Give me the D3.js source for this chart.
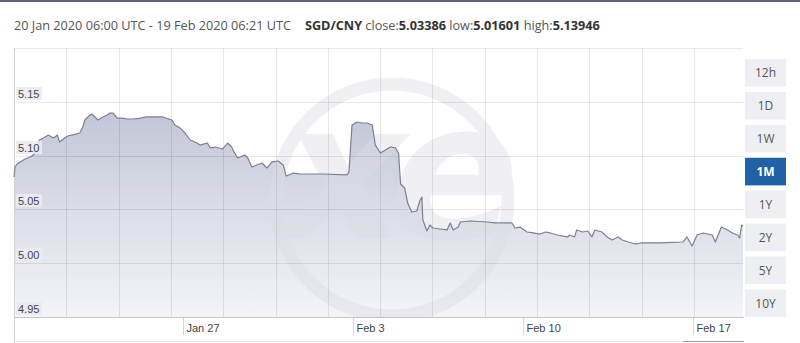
<!DOCTYPE html>
<html>
<head>
<meta charset="utf-8">
<script src="https://cdn.jsdelivr.net/npm/d3@7"></script>
<style>
  body { margin: 0; background: #fff; }
  svg { display: block; }
</style>
</head>
<body>
<svg id="chart" width="800" height="343"></svg>
<script>
// SGD/CNY, 1M view; times are hours after the first quote
var startTime = "2020-01-20T06:00:00Z";
var endTime = "2020-02-19T06:21:00Z";

var hoursFromStart = [0, 1, 3, 6, 11, 16, 19, 23, 25, 29, 34, 39, 43, 45, 50, 53, 57, 65, 68, 70,
  74, 77, 80, 83, 88, 92, 95, 98, 102, 107, 112, 118, 125, 130, 137, 147, 156, 159, 164, 169,
  174, 179, 184, 191, 194, 199, 206, 211, 215, 218, 221, 228, 231, 235, 240, 245, 250, 255, 261, 266,
  269, 276, 283, 305, 329, 331, 334, 339, 344, 349, 354, 357, 362, 367, 372, 377, 380, 382, 386, 389,
  393, 398, 401, 403, 404, 408, 411, 414, 421, 428, 431, 434, 439, 441, 451, 468, 475, 492, 495, 500,
  507, 513, 520, 525, 530, 537, 547, 549, 554, 556, 562, 567, 571, 574, 581, 586, 591, 597, 601, 607,
  614, 619, 638, 661, 665, 670, 675, 681, 690, 693, 699, 705, 710, 715, 717, 719, 720.35];

var rates = [5.0801, 5.0894, 5.0922, 5.0941, 5.0968, 5.0987, 5.1006, 5.1052, 5.1145, 5.1164,
  5.1191, 5.1164, 5.1191, 5.1126, 5.1164, 5.1182, 5.1191, 5.1210, 5.1266, 5.1331,
  5.1368, 5.1387, 5.1359, 5.1331, 5.1359, 5.1378, 5.1396, 5.1394, 5.1349, 5.1349,
  5.1340, 5.1340, 5.1349, 5.1359, 5.1359, 5.1359, 5.1331, 5.1284, 5.1257, 5.1210,
  5.1145, 5.1126, 5.1098, 5.1117, 5.1071, 5.1080, 5.1061, 5.1117, 5.1080, 5.1024,
  5.0978, 5.1006, 5.0978, 5.0894, 5.0913, 5.0931, 5.0885, 5.0941, 5.0950, 5.0913,
  5.0810, 5.0838, 5.0829, 5.0829, 5.0820, 5.0848, 5.1284, 5.1312, 5.1303, 5.1303,
  5.1284, 5.1098, 5.1024, 5.1052, 5.1080, 5.1071, 5.1024, 5.0736, 5.0699, 5.0559,
  5.0476, 5.0485, 5.0578, 5.0615, 5.0401, 5.0299, 5.0355, 5.0327, 5.0318, 5.0309,
  5.0374, 5.0309, 5.0336, 5.0383, 5.0392, 5.0383, 5.0374, 5.0374, 5.0327, 5.0336,
  5.0290, 5.0281, 5.0271, 5.0290, 5.0281, 5.0262, 5.0244, 5.0262, 5.0244, 5.0309,
  5.0290, 5.0299, 5.0244, 5.0309, 5.0290, 5.0244, 5.0216, 5.0244, 5.0216, 5.0197,
  5.0178, 5.0188, 5.0188, 5.0197, 5.0244, 5.0160, 5.0262, 5.0281, 5.0262, 5.0197,
  5.0336, 5.0309, 5.0281, 5.0262, 5.0234, 5.0355, 5.0346];

var yTicks = [4.95, 5.00, 5.05, 5.10, 5.15];
var xTickDates = ["2020-01-27T05:00:00Z", "2020-02-03T05:00:00Z", "2020-02-10T05:00:00Z", "2020-02-17T05:00:00Z"];
var xTickLabels = ["Jan 27", "Feb 3", "Feb 10", "Feb 17"];
var rangeButtons = ["12h", "1D", "1W", "1M", "1Y", "2Y", "5Y", "10Y"];
var activeButton = "1M";

var svg = d3.select("#chart");
var plot = { left: 14, right: 743, top: 48, bottom: 317 };

var t0 = new Date(startTime), t1 = new Date(endTime);
var data = hoursFromStart.map(function (h, i) {
  return { date: new Date(t0.getTime() + h * 3600e3), value: rates[i] };
});

var x = d3.scaleUtc().domain([t0, t1]).range([plot.left, plot.right]);
var y = d3.scaleLinear().domain([4.95, 5.20]).range([plot.bottom, plot.top]);

// top border
svg.append("rect").attr("x", 0).attr("y", 0).attr("width", 800).attr("height", 2).attr("fill", "#5b6479");

// header
var head = svg.append("text").attr("x", 14).attr("y", 30)
  .style("font-family", "'Open Sans', sans-serif").style("font-size", "12.7px").attr("fill", "#555");
head.append("tspan").text("20 Jan 2020 06:00 UTC - 19 Feb 2020 06:21 UTC");
head.append("tspan").attr("dx", 14).attr("font-weight", "bold").attr("fill", "#333").text("SGD/CNY");
head.append("tspan").text(" close:");
head.append("tspan").attr("font-weight", "bold").attr("fill", "#333").text("5.03386");
head.append("tspan").text(" low:");
head.append("tspan").attr("font-weight", "bold").attr("fill", "#333").text("5.01601");
head.append("tspan").text(" high:");
head.append("tspan").attr("font-weight", "bold").attr("fill", "#333").text("5.13946");

// area gradient
var defs = svg.append("defs");
var grad = defs.append("linearGradient").attr("id", "areaFill")
  .attr("gradientUnits", "userSpaceOnUse")
  .attr("x1", 0).attr("x2", 0).attr("y1", y(5.14)).attr("y2", plot.bottom);
grad.append("stop").attr("offset", 0).attr("stop-color", "#c3c6d7");
grad.append("stop").attr("offset", 1).attr("stop-color", "#f4f5f9");
defs.append("clipPath").attr("id", "plotClip").append("rect")
  .attr("x", plot.left).attr("y", plot.top)
  .attr("width", plot.right - plot.left).attr("height", plot.bottom - plot.top);

var area = d3.area().x(function (d) { return x(d.date); })
  .y0(plot.bottom).y1(function (d) { return y(d.value); });
var line = d3.line().x(function (d) { return x(d.date); }).y(function (d) { return y(d.value); });

svg.append("path").datum(data).attr("d", area).attr("fill", "url(#areaFill)");

// xe watermark
var wm = svg.append("g").attr("clip-path", "url(#plotClip)").attr("opacity", 0.42);
wm.append("circle").attr("cx", 392).attr("cy", 200).attr("r", 116)
  .attr("fill", "none").attr("stroke", "#dcdde5").attr("stroke-width", 13);
wm.append("text").attr("x", 383).attr("y", 238).attr("text-anchor", "middle")
  .attr("transform", "skewX(-12) translate(50,0)")
  .style("font-family", "'DejaVu Sans', sans-serif").style("font-weight", "bold")
  .style("font-size", "190px").style("letter-spacing", "-14px")
  .attr("fill", "#dcdde5").text("xe");

// grid
var gridStepHours = 51.68;
var vGrid = d3.range(1, 14).map(function (k) { return new Date(t0.getTime() + k * gridStepHours * 3600e3); });
svg.append("g").selectAll("line").data(vGrid).join("line")
  .attr("x1", function (d) { return Math.round(x(d)) + 0.5; })
  .attr("x2", function (d) { return Math.round(x(d)) + 0.5; })
  .attr("y1", plot.top).attr("y2", plot.bottom)
  .attr("stroke", "rgba(0,0,0,0.09)");
svg.append("g").selectAll("line").data([5.00, 5.05, 5.10, 5.15, 5.20]).join("line")
  .attr("x1", plot.left).attr("x2", plot.right)
  .attr("y1", function (d) { return Math.round(y(d)) + 0.5; })
  .attr("y2", function (d) { return Math.round(y(d)) + 0.5; })
  .attr("stroke", "rgba(0,0,0,0.09)");

// left border and bottom axis
svg.append("line").attr("x1", plot.left + 0.5).attr("x2", plot.left + 0.5)
  .attr("y1", plot.top).attr("y2", 343).attr("stroke", "#d4d4d4");
svg.append("line").attr("x1", plot.left).attr("x2", plot.right + 1)
  .attr("y1", plot.bottom + 0.5).attr("y2", plot.bottom + 0.5).attr("stroke", "#c4c4c8");
svg.append("line").attr("x1", plot.left).attr("x2", plot.right + 1)
  .attr("y1", 341.5).attr("y2", 341.5).attr("stroke", "#e2e2e2");
svg.append("line").attr("x1", 683).attr("x2", plot.right + 1)
  .attr("y1", 341.5).attr("y2", 341.5).attr("stroke", "#9a9aa0");

// price line
svg.append("path").datum(data).attr("d", line)
  .attr("fill", "none").attr("stroke", "#7b7f93").attr("stroke-width", 1.2)
  .attr("stroke-linejoin", "round");

// y labels
var yl = svg.append("g").style("font-family", "'Liberation Sans', Arial, sans-serif").style("font-size", "11px");
yTicks.forEach(function (v) {
  var g = yl.append("g").attr("transform", "translate(16," + (Math.round(y(v)) - 4) + ")");
  g.append("rect").attr("x", 0).attr("y", -11).attr("width", 26).attr("height", 13).attr("fill", "#eaeaf3").attr("opacity", 0.9);
  g.append("text").attr("x", 2).attr("y", 0).attr("fill", "#444").text(d3.format(".2f")(v));
});

// x ticks
var xl = svg.append("g").style("font-family", "'Liberation Sans', Arial, sans-serif").style("font-size", "11px");
xTickDates.forEach(function (s, i) {
  var px = Math.round(x(new Date(s))) + 0.5;
  xl.append("line").attr("x1", px).attr("x2", px).attr("y1", plot.bottom + 1).attr("y2", plot.bottom + 18).attr("stroke", "#d8d8d8");
  xl.append("text").attr("x", px + 3).attr("y", plot.bottom + 15).attr("fill", "#444").text(xTickLabels[i]);
});

// range buttons
var btn = d3.scaleBand().domain(rangeButtons).range([59, 317]).paddingInner(0.16);
var bg = svg.append("g").selectAll("g").data(rangeButtons).join("g")
  .attr("transform", function (d) { return "translate(745," + btn(d) + ")"; });
bg.append("rect").attr("width", 41).attr("height", btn.bandwidth())
  .attr("fill", function (d) { return d === activeButton ? "#2062a8" : "#eeeff3"; });
bg.append("text").attr("x", 20.5).attr("y", btn.bandwidth() / 2 + 4.5).attr("text-anchor", "middle")
  .style("font-family", "'Open Sans', sans-serif").style("font-size", "12px")
  .style("font-weight", function (d) { return d === activeButton ? "bold" : "normal"; })
  .attr("fill", function (d) { return d === activeButton ? "#fff" : "#555"; })
  .text(function (d) { return d; });
</script>
</body>
</html>
